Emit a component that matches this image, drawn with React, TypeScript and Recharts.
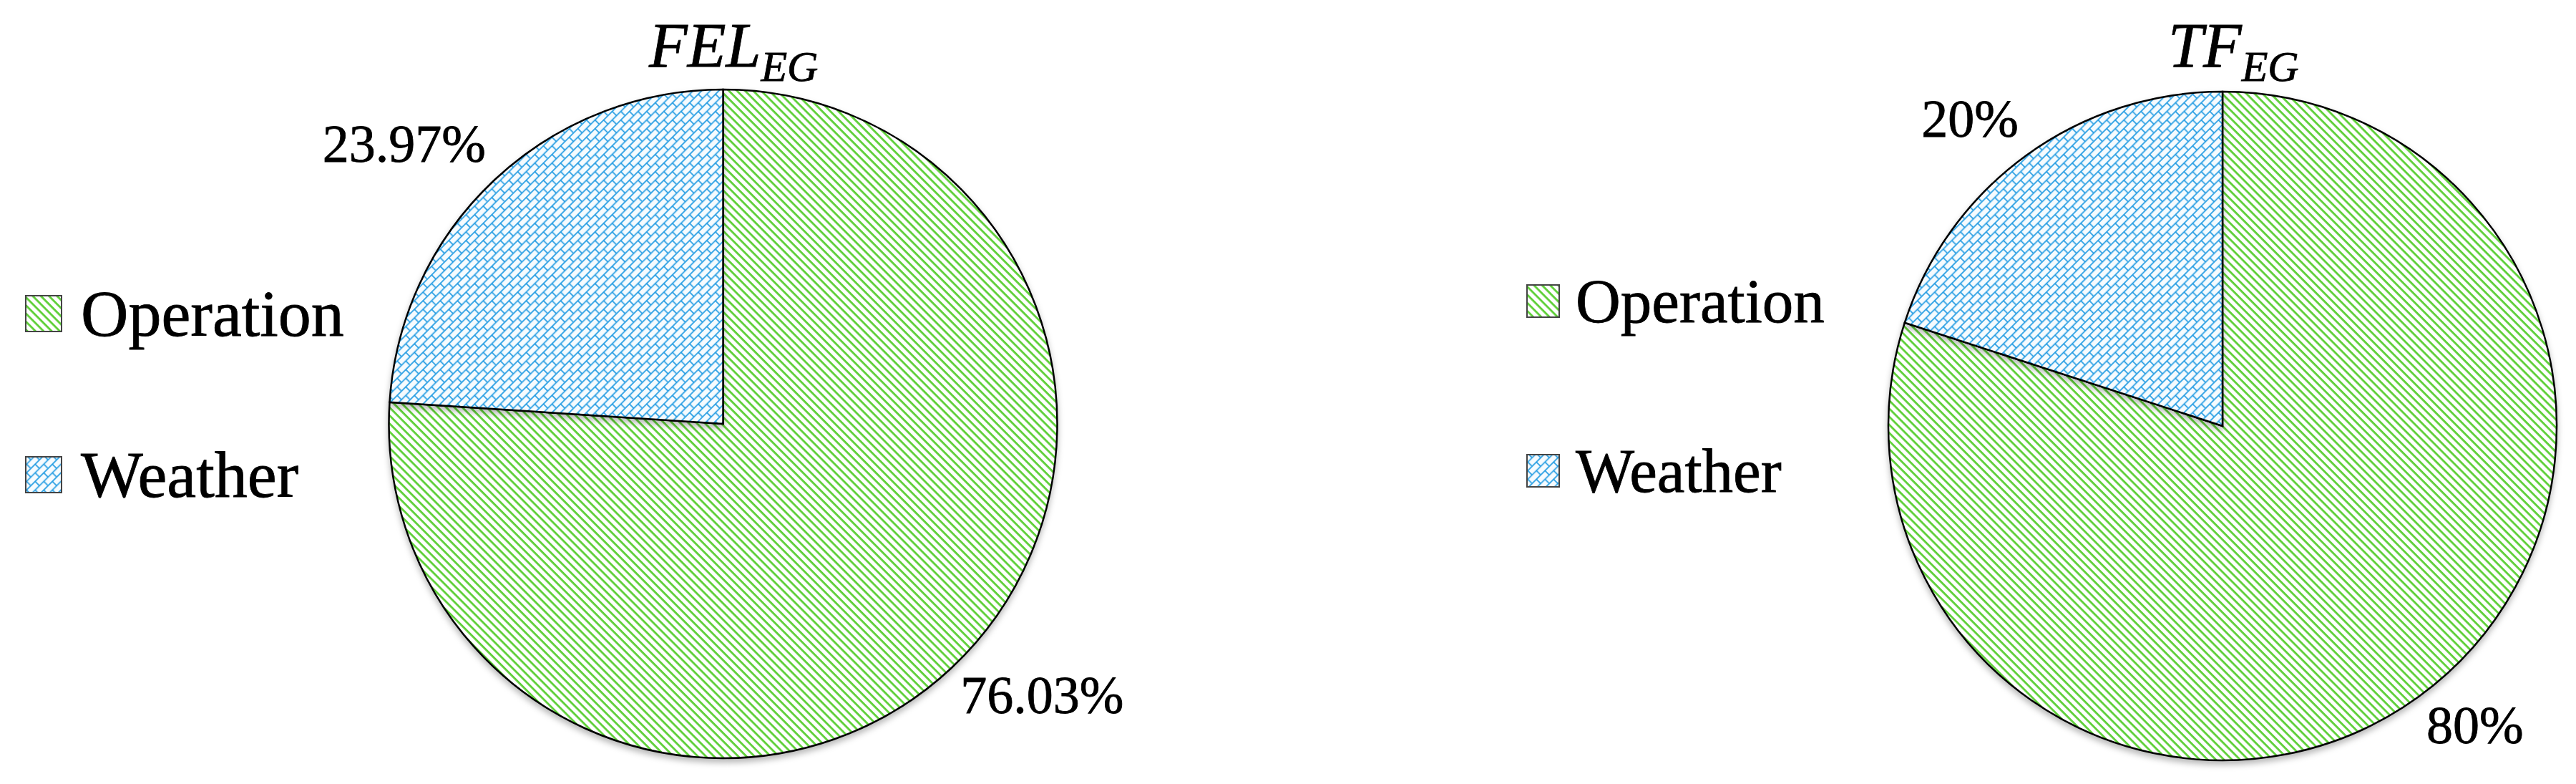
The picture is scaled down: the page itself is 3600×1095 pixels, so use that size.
import React from 'react';
import { PieChart, Pie, Cell, Legend } from 'recharts';

const categories = ['Operation', 'Weather'];
const felValues = [76.03, 23.97];
const tfValues = [80, 20];
const chartTitles = ['FEL', 'TF'];
const chartSubs = ['EG', 'EG'];

const patternIds = ['pat-op', 'pat-we'];
const FONT = '"Liberation Serif", "Times New Roman", serif';
const RADIAN = Math.PI / 180;

const makeData = (vals: number[]) => categories.map((name, i) => ({ name, value: vals[i] }));

const renderLabel = (props: any) => {
  const { cx, cy, midAngle, outerRadius, value } = props;
  const r = outerRadius + 18;
  const c = Math.cos(-midAngle * RADIAN);
  const s = Math.sin(-midAngle * RADIAN);
  const x = cx + r * c;
  const y = cy + r * s;
  const fs = 74;
  const ty = s > 0 ? y + fs * 0.68 : y - 12;
  return (
    <text x={x} y={ty} textAnchor={c >= 0 ? 'start' : 'end'} fontFamily={FONT} fontSize={fs} fill="#000" stroke="#000" strokeWidth={0.8}>
      {`${value}%`}
    </text>
  );
};

const LegendBox = ({ box, fs, gap, rowH }: { box: number; fs: number; gap: number; rowH: number }) => (
  <div style={{ fontFamily: FONT, fontSize: fs, color: '#000', WebkitTextStroke: '0.8px #000' }}>
    {categories.map((c, i) => (
      <div key={c} style={{ display: 'flex', alignItems: 'center', height: rowH }}>
        <svg width={box} height={box} style={{ marginRight: gap, flex: 'none' }}>
          <rect x={1} y={1} width={box - 2} height={box - 2} fill={`url(#${patternIds[i]})`} stroke="#444" strokeWidth={2} />
        </svg>
        <span style={{ lineHeight: 1 }}>{c}</span>
      </div>
    ))}
  </div>
);

const OnePie = ({ vals, cx, cy, legend }: { vals: number[]; cx: number; cy: number; legend: any }) => (
  <PieChart width={1800} height={1095} margin={{ top: 0, right: 0, bottom: 0, left: 0 }}>
    <Pie
      data={makeData(vals)}
      dataKey="value"
      nameKey="name"
      cx={cx}
      cy={cy}
      outerRadius={467}
      startAngle={90}
      endAngle={-270}
      stroke="#000"
      strokeWidth={2.5}
      label={renderLabel}
      labelLine={false}
      isAnimationActive={false}
    >
      {categories.map((c, i) => (
        <Cell key={c} fill={`url(#${patternIds[i]})`} />
      ))}
    </Pie>
    <Legend
      layout="vertical"
      align="center"
      verticalAlign="middle"
      wrapperStyle={{ left: legend.left, top: legend.top, width: 600, height: legend.rowH * 2 }}
      content={() => <LegendBox box={legend.box} fs={legend.fs} gap={legend.gap} rowH={legend.rowH} />}
    />
  </PieChart>
);

export default function App() {
  return (
    <div style={{ position: 'absolute', left: 0, top: 0, width: 3600, height: 1095, background: '#fff' }}>
      <style>{`.recharts-pie-sector path { filter: drop-shadow(0px 5px 4px rgba(0,0,0,0.28)); }`}</style>
      <svg width={3600} height={1095} style={{ position: 'absolute', left: 0, top: 0, pointerEvents: 'none', zIndex: 2 }}>
        <defs>
          <pattern id="pat-op" patternUnits="userSpaceOnUse" width={8} height={8} patternTransform="rotate(45)">
            <rect x={0} y={0} width={8} height={8} fill="#ffffff" />
            <rect x={0} y={0} width={8} height={2.8} fill="#5ccf35" />
          </pattern>
          <pattern id="pat-we" patternUnits="userSpaceOnUse" width={17} height={17} patternTransform="rotate(-45)">
            <rect x={0} y={0} width={17} height={17} fill="#f6fbfe" />
            <line x1={0} y1={1} x2={17} y2={1} stroke="#1f9ae2" strokeWidth={1.7} />
            <line x1={0} y1={9.5} x2={17} y2={9.5} stroke="#1f9ae2" strokeWidth={1.7} />
            <line x1={2} y1={1} x2={2} y2={9.5} stroke="#1f9ae2" strokeWidth={1.7} />
            <line x1={10.5} y1={9.5} x2={10.5} y2={18} stroke="#1f9ae2" strokeWidth={1.7} />
          </pattern>
        </defs>
        <text x={907} y={93} fontFamily={FONT} fontStyle="italic" fontSize={88} fill="#000" stroke="#000" strokeWidth={0.8}>
          {chartTitles[0]}
          <tspan fontSize={60} dy={20}>{chartSubs[0]}</tspan>
        </text>
        <text x={3030} y={93} fontFamily={FONT} fontStyle="italic" fontSize={88} fill="#000" stroke="#000" strokeWidth={0.8}>
          {chartTitles[1]}
          <tspan fontSize={60} dy={20}>{chartSubs[1]}</tspan>
        </text>
      </svg>
      <div style={{ position: 'absolute', left: 0, top: 0, display: 'flex', zIndex: 1 }}>
        <OnePie vals={felValues} cx={1010.5} cy={592} legend={{ left: 35, top: 325, box: 52, fs: 92, gap: 26, rowH: 225 }} />
        <OnePie vals={tfValues} cx={1306} cy={595} legend={{ left: 333, top: 302, box: 47, fs: 87, gap: 22, rowH: 237 }} />
      </div>
    </div>
  );
}
